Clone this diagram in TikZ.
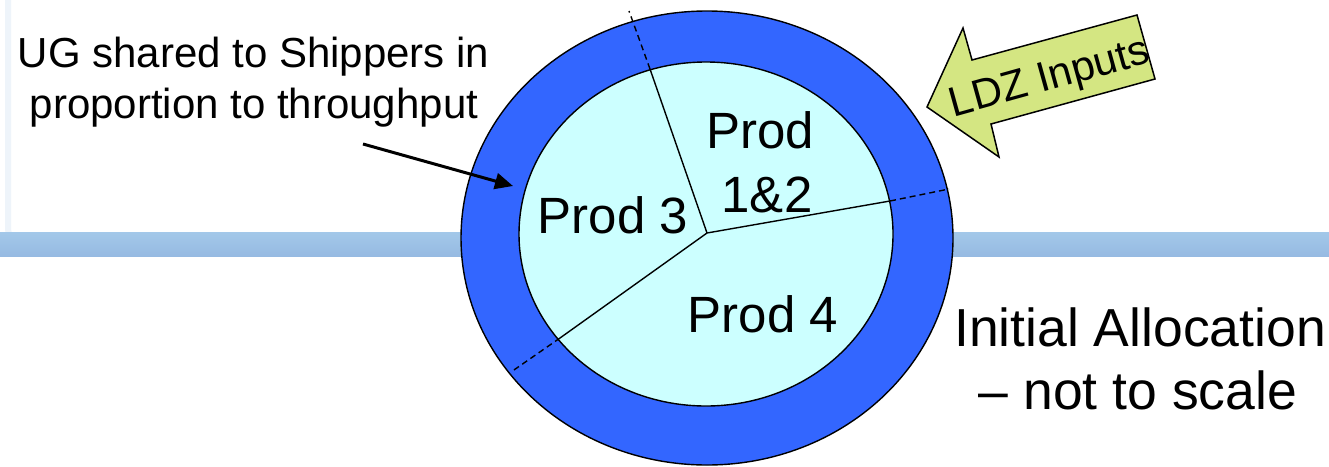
\documentclass[tikz,border=0pt]{standalone}
\usepackage{fontspec}
\setmainfont{Liberation Sans}
\usetikzlibrary{arrows.meta}
\definecolor{ringblue}{RGB}{51,102,255}
\definecolor{piefill}{RGB}{204,255,255}
\definecolor{bandA}{RGB}{163,200,233}
\definecolor{bandB}{RGB}{150,186,226}
\definecolor{ldzfill}{RGB}{212,230,130}
\definecolor{faint}{RGB}{238,244,250}
\tikzset{
  lbl/.style={inner sep=0pt, anchor=base, text=black},
  ugfont/.style={font=\fontsize{42}{50}\selectfont},
  prodfont/.style={font=\fontsize{51}{61}\selectfont},
  initfont/.style={font=\fontsize{53.5}{63}\selectfont},
  ldzfont/.style={font=\fontsize{42}{50}\selectfont},
  edge/.style={line width=1.4pt, draw=black},
  dashedge/.style={line width=1.4pt, draw=black, dash pattern=on 6pt off 4pt},
}
\begin{document}
\begin{tikzpicture}[x=1pt,y=-1pt]
\useasboundingbox (0,0) rectangle (1329,466);
\fill[white] (0,0) rectangle (1329,466);
% slide decoration
\draw[faint, line width=6pt, rounded corners=16pt] (8,0) -- (8,244) -- (40,244);
\shade[top color=bandA, bottom color=bandB] (0,232) rectangle (1329,256);
% rings
\draw[edge, fill=ringblue] (707,238) ellipse [x radius=246, y radius=227];
\draw[edge, fill=piefill] (706,234) ellipse [x radius=187, y radius=172];
% pie divisions
\coordinate (c) at (707,233);
\coordinate (t1) at (650,69);
\coordinate (t2) at (890,201);
\coordinate (t3) at (560,338);
\coordinate (d1) at (629,11);
\coordinate (d2) at (949,189);
\coordinate (d3) at (511,372);
\draw[edge] (c) -- (t1);
\draw[edge] (c) -- (t2);
\draw[edge] (c) -- (t3);
\draw[dashedge] (t1) -- (d1);
\draw[dashedge] (t2) -- (d2);
\draw[dashedge] (t3) -- (d3);
% labels in pie
\node[lbl, prodfont] (p3) at (613,233) {Prod 3};
\node[lbl, prodfont] (p12a) at (760,148) {Prod};
\node[lbl, prodfont] (p12b) at (767,212) {1\&2};
\node[lbl, prodfont] (p4) at (763,332) {Prod 4};
% UG text and arrow
\node[lbl, ugfont] (ug1) at (253.5,67) {UG shared to Shippers in};
\node[lbl, ugfont] (ug2) at (254,118) {proportion to throughput};
\coordinate (ugtail) at (363,144);
\coordinate (ugtip) at (513,186);
\draw[line width=3pt, -{Triangle[length=18pt,width=16pt]}] (ugtail) -- (ugtip);
% LDZ block arrow
\draw[line width=1.5pt, fill=ldzfill, line join=miter]
  (927,107) -- (963,28) -- (972,60) -- (1137,15) -- (1155,79) -- (991,124) -- (999,157) -- cycle;
\node[ldzfont, inner sep=0pt, rotate=15.5] (ldz) at (1050,80) {LDZ Inputs};
% caption
\node[lbl, initfont] (ia1) at (1140,346) {Initial Allocation};
\node[lbl, initfont] (ia2) at (1138,409) {– not to scale};
\end{tikzpicture}
\end{document}
